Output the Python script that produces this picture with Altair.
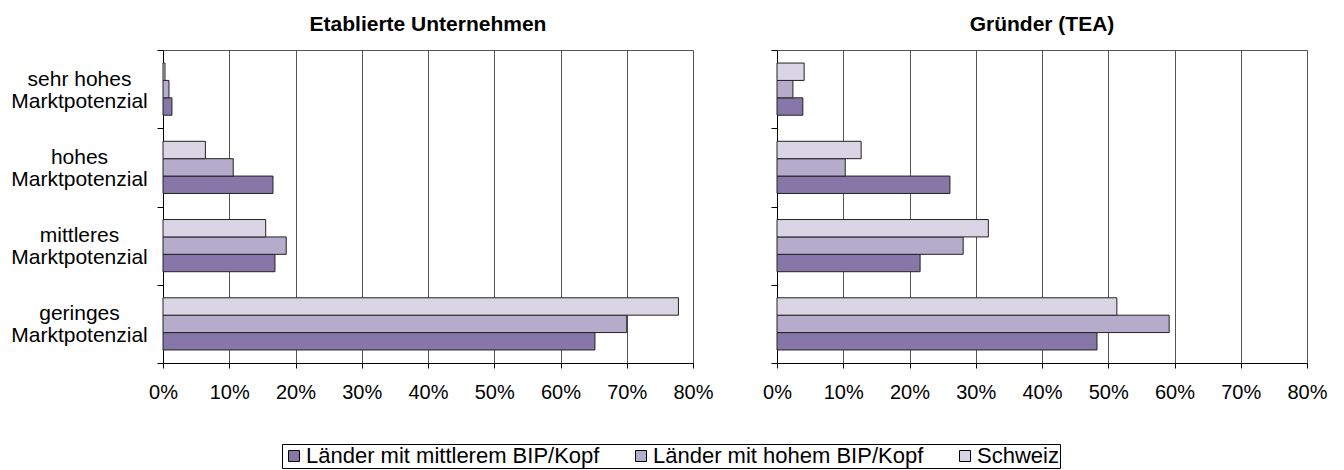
import altair as alt
import pandas as pd

categories = [
    "sehr hohes Marktpotenzial",
    "hohes Marktpotenzial",
    "mittleres Marktpotenzial",
    "geringes Marktpotenzial",
]
series = ["Länder mit mittlerem BIP/Kopf", "Länder mit hohem BIP/Kopf", "Schweiz"]
colors = ["#8677A8", "#B5ABCB", "#DAD5E5"]

etabliert_mittel = [1.35, 16.6, 16.9, 65.2]
etabliert_hoch = [0.9, 10.6, 18.6, 70.0]
etabliert_schweiz = [0.3, 6.4, 15.5, 77.8]

gruender_mittel = [3.9, 26.1, 21.6, 48.3]
gruender_hoch = [2.4, 10.3, 28.1, 59.2]
gruender_schweiz = [4.1, 12.7, 31.9, 51.3]

x_ticks = [0, 10, 20, 30, 40, 50, 60, 70, 80]

FONT = "Liberation Sans"


def make_df(mittel, hoch, schweiz):
    rows = []
    for vals, s in zip([mittel, hoch, schweiz], series):
        for c, v in zip(categories, vals):
            rows.append({"Kategorie": c, "Gruppe": s, "Wert": v})
    return pd.DataFrame(rows)


IS_EXTRA = "indexof(datum.label, 'Marktpotenzial') < 0"
LABEL_EXPR = (
    "indexof(datum.label, 'Marktpotenzial') >= 0 ? "
    "[replace(datum.label, ' Marktpotenzial', ''), 'Marktpotenzial'] : ''"
)


def panel(df, title, show_labels):
    return (
        alt.Chart(df)
        .mark_bar(stroke="#222222", strokeWidth=1)
        .encode(
            x=alt.X(
                "Wert:Q",
                scale=alt.Scale(domain=[0, 80], nice=False),
                axis=alt.Axis(
                    values=x_ticks,
                    labelExpr="datum.value + '%'",
                    labelFlush=False,
                    title=None,
                    grid=True,
                    gridColor="#555555",
                    gridWidth=1,
                    domainColor="#000000",
                    tickColor="#000000",
                    tickSize=5,
                    labelFontSize=20,
                    labelFont=FONT,
                    labelColor="#000000",
                    labelPadding=14,
                ),
            ),
            y=alt.Y(
                "Kategorie:N",
                sort=categories,
                scale=alt.Scale(paddingInner=0, paddingOuter=0),
                axis=alt.Axis(
                    title=None,
                    tickBand="extent",
                    labels=show_labels,
                    labelExpr=LABEL_EXPR,
                    labelAlign="center",
                    labelBaseline="middle",
                    labelPadding=78,
                    labelOffset={"condition": {"test": IS_EXTRA, "value": 0}, "value": -10},
                    labelFontSize={"condition": {"test": IS_EXTRA, "value": 0}, "value": 21},
                    labelLineHeight=22,
                    labelFont=FONT,
                    labelColor="#000000",
                    labelLimit=300,
                    domainColor="#000000",
                    tickColor="#000000",
                    tickSize=6,
                    grid=False,
                ),
            ),
            yOffset=alt.YOffset(
                "Gruppe:N",
                sort=["Schweiz", "Länder mit hohem BIP/Kopf", "Länder mit mittlerem BIP/Kopf"],
                scale=alt.Scale(paddingInner=0, paddingOuter=0.75),
            ),
            color=alt.Color(
                "Gruppe:N",
                scale=alt.Scale(domain=series, range=colors),
                legend=alt.Legend(
                    title=None,
                    orient="none",
                    direction="horizontal",
                    legendX=119,
                    legendY=394,
                    symbolType="square",
                    symbolSize=121,
                    symbolStrokeColor="#000000",
                    symbolStrokeWidth=1,
                    labelFontSize=22,
                    labelFont=FONT,
                    labelColor="#000000",
                    labelLimit=500,
                    labelOffset=1,
                    columnPadding=30,
                    strokeColor="#000000",
                    fillColor="#ffffff",
                    padding=1,
                ),
            ),
        )
        .properties(
            width=530,
            height=313,
            title=alt.Title(
                title,
                fontSize=21,
                fontWeight="bold",
                font=FONT,
                anchor="middle",
                frame="group",
                offset=15,
                color="#000000",
            ),
        )
    )


left = panel(make_df(etabliert_mittel, etabliert_hoch, etabliert_schweiz), "Etablierte Unternehmen", True)
right = panel(make_df(gruender_mittel, gruender_hoch, gruender_schweiz), "Gründer (TEA)", False)

chart = (
    alt.hconcat(left, right, spacing=48)
    .properties(padding={"left": 2, "top": 5, "right": 5, "bottom": 5})
    .configure_view(stroke="#555555", strokeWidth=1)
)

chart.save("out.html", embed_options={"renderer": "svg", "actions": False})
